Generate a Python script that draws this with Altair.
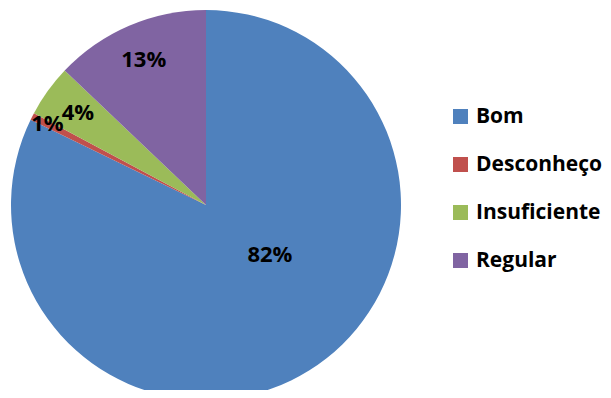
import altair as alt
import pandas as pd

categories = ["Bom", "Desconheço", "Insuficiente", "Regular"]
values = [82.2, 0.6, 4.3, 12.9]
labels = ["82%", "1%", "4%", "13%"]
colors = ["#4F81BD", "#C0504D", "#9BBB59", "#8064A2"]

df = pd.DataFrame({"cat": categories, "val": values, "lab": labels, "ord": list(range(len(categories)))})

CX, CY, R = 198, 197, 195
FONT = "Open Sans"

base = alt.Chart(df).encode(
    theta=alt.Theta("val:Q", stack=True),
    order=alt.Order("ord:Q"),
    x=alt.value(CX),
    y=alt.value(CY),
)

pie = base.mark_arc(outerRadius=R).encode(
    color=alt.Color(
        "cat:N",
        scale=alt.Scale(domain=categories, range=colors),
        legend=alt.Legend(
            title=None,
            orient="none",
            legendX=442,
            legendY=98,
            symbolType="square",
            symbolSize=225,
            symbolStrokeWidth=0,
            labelFont=FONT,
            labelFontSize=21,
            labelFontWeight="bold",
            labelColor="#000000",
            labelOffset=5,
            rowPadding=26,
            labelLimit=300,
        ),
    )
)

txt = dict(font=FONT, fontSize=22, fontWeight="bold", color="#000000")

text_bom = base.mark_text(radius=79, dx=22, dy=-17, **txt).encode(
    text=alt.condition("datum.cat == 'Bom'", "lab:N", alt.value(""))
)
text_des = base.mark_text(radius=178, **txt).encode(
    text=alt.condition("datum.cat == 'Desconheço'", "lab:N", alt.value(""))
)
text_rest = base.mark_text(radius=158, **txt).encode(
    text=alt.condition("datum.cat == 'Insuficiente' || datum.cat == 'Regular'", "lab:N", alt.value(""))
)

chart = (
    alt.layer(pie, text_bom, text_des, text_rest)
    .properties(width=595, height=382, autosize=alt.AutoSizeParams(type="none"), padding=0)
    .configure_view(stroke=None)
)

chart.save("out.html", embed_options={"renderer": "svg", "actions": False})
